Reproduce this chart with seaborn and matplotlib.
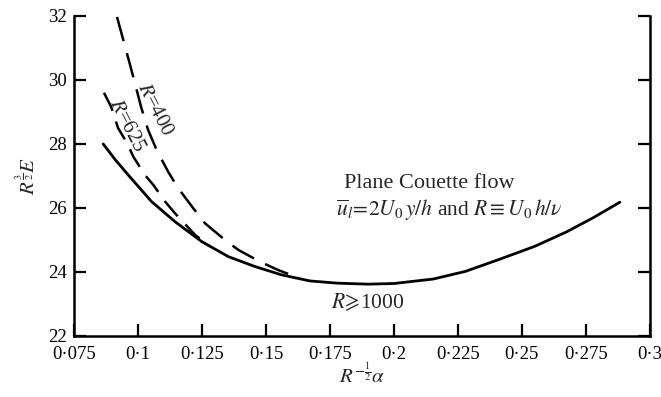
import matplotlib
matplotlib.use("Agg")
import matplotlib.pyplot as plt
import seaborn as sns

# data
x_solid = [0.0864, 0.0912, 0.0962, 0.1053, 0.1145, 0.1249, 0.1353, 0.1457, 0.1561, 0.1672,
           0.178, 0.19, 0.2, 0.2154, 0.228, 0.2414, 0.255, 0.2674, 0.278, 0.2883]
y_solid = [28.0, 27.5, 27.03, 26.2, 25.57, 24.95, 24.48, 24.17, 23.91, 23.72,
           23.65, 23.62, 23.64, 23.78, 24.02, 24.4, 24.8, 25.25, 25.7, 26.18]

x_625 = [0.0867, 0.0895, 0.0922, 0.0957, 0.0982, 0.1027, 0.106, 0.1106, 0.1145, 0.1223, 0.128]
y_625 = [29.6, 29.16, 28.5, 28.03, 27.6, 27.03, 26.72, 26.2, 25.83, 25.16, 24.8]

x_400 = [0.0918, 0.095, 0.0966, 0.0988, 0.1012, 0.1039, 0.1073, 0.1118, 0.1157, 0.1216,
         0.1262, 0.134, 0.1392, 0.1477, 0.1548, 0.1633]
y_400 = [31.97, 31.03, 30.56, 29.9, 29.16, 28.45, 27.81, 27.13, 26.62, 25.99,
         25.52, 25.0, 24.69, 24.32, 24.06, 23.8]

x_ticks = [0.075, 0.1, 0.125, 0.15, 0.175, 0.2, 0.225, 0.25, 0.275, 0.3]
x_tick_labels = ["0·075", "0·1", "0·125", "0·15", "0·175", "0·2", "0·225", "0·25", "0·275", "0·3"]
y_ticks = [22, 24, 26, 28, 30, 32]

sns.set_style("ticks")
plt.rcParams["font.family"] = ["Liberation Serif", "DejaVu Serif"]
plt.rcParams["mathtext.fontset"] = "stix"

fig = plt.figure(figsize=(6.61, 3.97), dpi=100)
ax = fig.add_axes([0.112, 0.1537, 0.871, 0.806])

sns.lineplot(x=x_solid, y=y_solid, ax=ax, color="black", lw=2.0, sort=False)
sns.lineplot(x=x_625, y=y_625, ax=ax, color="black", lw=1.8, sort=False,
             linestyle=(0, (8, 4.5)))
sns.lineplot(x=x_400, y=y_400, ax=ax, color="black", lw=1.8, sort=False,
             linestyle=(0, (10, 5)))

ax.set_xlim(0.075, 0.3)
ax.set_ylim(22, 32)
ax.set_xticks(x_ticks)
ax.set_xticklabels(x_tick_labels)
ax.set_yticks(y_ticks)
ax.tick_params(direction="in", length=8.5, width=1.6, labelsize=13.5, colors="black")
ax.tick_params(axis="x", pad=7)
ax.tick_params(axis="y", pad=5, right=True, labelright=False)
for s in ["left", "bottom", "right"]:
    ax.spines[s].set_linewidth(1.8)
    ax.spines[s].set_color("black")
ax.spines["top"].set_visible(False)

ax.set_xlabel(r"$R^{-\frac{1}{2}}\alpha$", fontsize=15, labelpad=1)
ax.set_ylabel(r"$R^{\frac{3}{2}}E$", fontsize=15, labelpad=6)

def fx(px):
    return px / 661.0

def fy(py):
    return 1 - py / 397.0

fig.text(fx(429), fy(183), "Plane Couette flow", fontsize=16,
         ha="center", va="center")
fig.text(fx(449), fy(210), r"$\overline{u}_l\!=\!2U_0\,y/h$ and $R\equiv U_0\,h/\nu$",
         fontsize=15.5, ha="center", va="center")
fig.text(fx(368), fy(302), r"$R\!\geqslant\!$1000", fontsize=15.5,
         ha="center", va="center")
fig.text(fx(155), fy(110), r"$R$=400", fontsize=15, rotation=-63,
         ha="center", va="center", rotation_mode="anchor")
fig.text(fx(127), fy(126), r"$R$=625", fontsize=15, rotation=-63,
         ha="center", va="center", rotation_mode="anchor")

fig.savefig("out.png", dpi=100)
